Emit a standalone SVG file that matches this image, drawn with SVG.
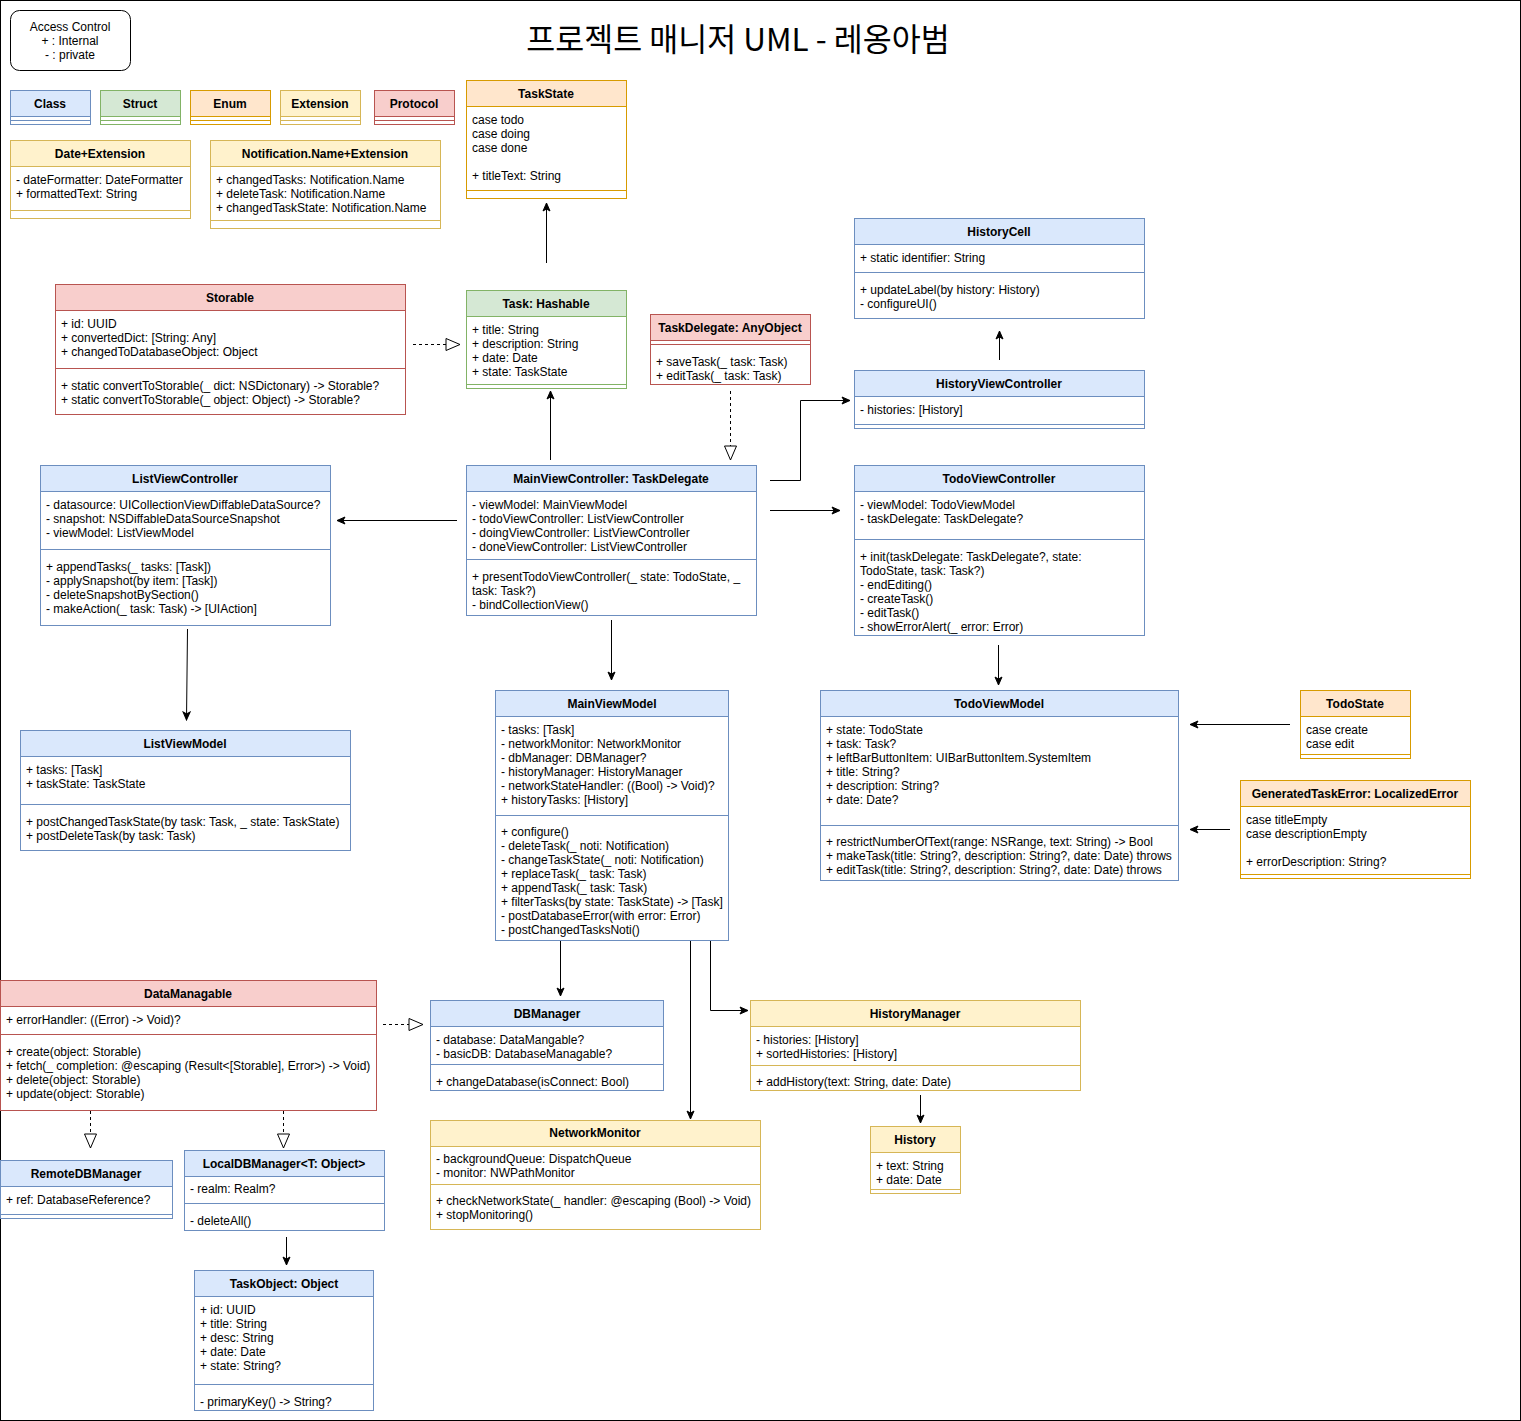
<svg xmlns="http://www.w3.org/2000/svg" width="1521" height="1421" viewBox="0 0 1521 1421">
<defs>
<style>
text{font-family:"Liberation Sans",Arial,sans-serif;font-size:12px;fill:#000}
.h{font-weight:bold;text-anchor:middle}
.c{text-anchor:middle}
rect,line{stroke-width:1}
.node rect{fill:#fff}
.blue rect,.blue line{stroke:#6c8ebf}.blue .hd{fill:#dae8fc}
.green rect,.green line{stroke:#82b366}.green .hd{fill:#d5e8d4}
.orange rect,.orange line{stroke:#d79b00}.orange .hd{fill:#ffe6cc}
.yellow rect,.yellow line{stroke:#d6b656}.yellow .hd{fill:#fff2cc}
.red rect,.red line{stroke:#b85450}.red .hd{fill:#f8cecc}
.edge path{fill:none;stroke:#000;stroke-width:1}
.dash{stroke-dasharray:3 3}
</style>
<marker id="arr" markerUnits="userSpaceOnUse" markerWidth="10" markerHeight="10" viewBox="0 0 10 10" refX="9" refY="5" orient="auto">
<path d="M1,1.5 L9,5 L1,8.5 L3,5 Z" fill="#000" stroke="#000" stroke-width="1"/>
</marker>
<marker id="tri" markerUnits="userSpaceOnUse" markerWidth="16" markerHeight="14" viewBox="0 0 16 14" refX="15" refY="7" orient="auto">
<path d="M1,1 L15,7 L1,13 Z" fill="#fff" stroke="#000" stroke-width="1"/>
</marker>
</defs>
<rect x="0.5" y="0.5" width="1520" height="1420" fill="#fff" stroke="#000"/>
<text x="738" y="51" class="c" style="font-family:'Noto Sans CJK KR','Noto Sans',sans-serif;font-size:31.5px">프로젝트 매니저 UML - 레옹아범</text>

<g id="access-control">
<rect x="10.5" y="10.5" width="120" height="60" rx="9" fill="#fff" stroke="#000"/>
<text x="70" y="31" class="c">Access Control</text>
<text x="70" y="45" class="c">+ : Internal</text>
<text x="70" y="59" class="c">- : private</text>
</g>

<g id="legend-class" class="node blue"><rect x="10.5" y="90.5" width="80" height="34"/><rect class="hd" x="10.5" y="90.5" width="80" height="26"/><line x1="10.5" y1="120.5" x2="90.5" y2="120.5"/><text x="50" y="108" class="h">Class</text></g>
<g id="legend-struct" class="node green"><rect x="100.5" y="90.5" width="80" height="34"/><rect class="hd" x="100.5" y="90.5" width="80" height="26"/><line x1="100.5" y1="120.5" x2="180.5" y2="120.5"/><text x="140" y="108" class="h">Struct</text></g>
<g id="legend-enum" class="node orange"><rect x="190.5" y="90.5" width="80" height="34"/><rect class="hd" x="190.5" y="90.5" width="80" height="26"/><line x1="190.5" y1="120.5" x2="270.5" y2="120.5"/><text x="230" y="108" class="h">Enum</text></g>
<g id="legend-extension" class="node yellow"><rect x="280.5" y="90.5" width="80" height="34"/><rect class="hd" x="280.5" y="90.5" width="80" height="26"/><line x1="280.5" y1="120.5" x2="360.5" y2="120.5"/><text x="320" y="108" class="h">Extension</text></g>
<g id="legend-protocol" class="node red"><rect x="374.5" y="90.5" width="80" height="34"/><rect class="hd" x="374.5" y="90.5" width="80" height="26"/><line x1="374.5" y1="120.5" x2="454.5" y2="120.5"/><text x="414" y="108" class="h">Protocol</text></g>

<g id="date-extension" class="node yellow">
<rect x="10.5" y="140.5" width="180" height="78"/><rect class="hd" x="10.5" y="140.5" width="180" height="26"/>
<text x="100" y="158" class="h">Date+Extension</text>
<text x="16" y="184">- dateFormatter: DateFormatter</text>
<text x="16" y="198">+ formattedText: String</text>
<line x1="10.5" y1="210.5" x2="190.5" y2="210.5"/>
</g>

<g id="notification-extension" class="node yellow">
<rect x="210.5" y="140.5" width="230" height="88"/><rect class="hd" x="210.5" y="140.5" width="230" height="26"/>
<text x="325" y="158" class="h">Notification.Name+Extension</text>
<text x="216" y="184">+ changedTasks: Notification.Name</text>
<text x="216" y="198">+ deleteTask: Notification.Name</text>
<text x="216" y="212">+ changedTaskState: Notification.Name</text>
<line x1="210.5" y1="220.5" x2="440.5" y2="220.5"/>
</g>

<g id="taskstate" class="node orange">
<rect x="466.5" y="80.5" width="160" height="118"/><rect class="hd" x="466.5" y="80.5" width="160" height="26"/>
<text x="546" y="98" class="h">TaskState</text>
<text x="472" y="124">case todo</text>
<text x="472" y="138">case doing</text>
<text x="472" y="152">case done</text>
<text x="472" y="180">+ titleText: String</text>
<line x1="466.5" y1="190.5" x2="626.5" y2="190.5"/>
</g>

<g id="historycell" class="node blue">
<rect x="854.5" y="218.5" width="290" height="100"/><rect class="hd" x="854.5" y="218.5" width="290" height="26"/>
<text x="999" y="236" class="h">HistoryCell</text>
<text x="860" y="262">+ static identifier: String</text>
<line x1="854.5" y1="272.5" x2="1144.5" y2="272.5"/>
<text x="860" y="294">+ updateLabel(by history: History)</text>
<text x="860" y="308">- configureUI()</text>
</g>

<g id="historyviewcontroller" class="node blue">
<rect x="854.5" y="370.5" width="290" height="58"/><rect class="hd" x="854.5" y="370.5" width="290" height="26"/>
<text x="999" y="388" class="h">HistoryViewController</text>
<text x="860" y="414">- histories: [History]</text>
<line x1="854.5" y1="424.5" x2="1144.5" y2="424.5"/>
</g>

<g id="storable" class="node red">
<rect x="55.5" y="284.5" width="350" height="130"/><rect class="hd" x="55.5" y="284.5" width="350" height="26"/>
<text x="230" y="302" class="h">Storable</text>
<text x="61" y="328">+ id: UUID</text>
<text x="61" y="342">+ convertedDict: [String: Any]</text>
<text x="61" y="356">+ changedToDatabaseObject: Object</text>
<line x1="55.5" y1="368.5" x2="405.5" y2="368.5"/>
<text x="61" y="390">+ static convertToStorable(_ dict: NSDictonary) -&gt; Storable?</text>
<text x="61" y="404">+ static convertToStorable(_ object: Object) -&gt; Storable?</text>
</g>

<g id="task" class="node green">
<rect x="466.5" y="290.5" width="160" height="98"/><rect class="hd" x="466.5" y="290.5" width="160" height="26"/>
<text x="546" y="308" class="h">Task: Hashable</text>
<text x="472" y="334">+ title: String</text>
<text x="472" y="348">+ description: String</text>
<text x="472" y="362">+ date: Date</text>
<text x="472" y="376">+ state: TaskState</text>
<line x1="466.5" y1="384.5" x2="626.5" y2="384.5"/>
</g>

<g id="taskdelegate" class="node red">
<rect x="650.5" y="314.5" width="160" height="70"/><rect class="hd" x="650.5" y="314.5" width="160" height="26"/>
<text x="730" y="332" class="h">TaskDelegate: AnyObject</text>
<line x1="650.5" y1="344.5" x2="810.5" y2="344.5"/>
<text x="656" y="366">+ saveTask(_ task: Task)</text>
<text x="656" y="380">+ editTask(_ task: Task)</text>
</g>

<g id="listviewcontroller" class="node blue">
<rect x="40.5" y="465.5" width="290" height="160"/><rect class="hd" x="40.5" y="465.5" width="290" height="26"/>
<text x="185" y="483" class="h">ListViewController</text>
<text x="46" y="509">- datasource: UICollectionViewDiffableDataSource?</text>
<text x="46" y="523">- snapshot: NSDiffableDataSourceSnapshot</text>
<text x="46" y="537">- viewModel: ListViewModel</text>
<line x1="40.5" y1="549.5" x2="330.5" y2="549.5"/>
<text x="46" y="571">+ appendTasks(_ tasks: [Task])</text>
<text x="46" y="585">- applySnapshot(by item: [Task])</text>
<text x="46" y="599">- deleteSnapshotBySection()</text>
<text x="46" y="613">- makeAction(_ task: Task) -&gt; [UIAction]</text>
</g>

<g id="listviewmodel" class="node blue">
<rect x="20.5" y="730.5" width="330" height="120"/><rect class="hd" x="20.5" y="730.5" width="330" height="26"/>
<text x="185" y="748" class="h">ListViewModel</text>
<text x="26" y="774">+ tasks: [Task]</text>
<text x="26" y="788">+ taskState: TaskState</text>
<line x1="20.5" y1="804.5" x2="350.5" y2="804.5"/>
<text x="26" y="826">+ postChangedTaskState(by task: Task, _ state: TaskState)</text>
<text x="26" y="840">+ postDeleteTask(by task: Task)</text>
</g>

<g id="mainviewcontroller" class="node blue">
<rect x="466.5" y="465.5" width="290" height="150"/><rect class="hd" x="466.5" y="465.5" width="290" height="26"/>
<text x="611" y="483" class="h">MainViewController: TaskDelegate</text>
<text x="472" y="509">- viewModel: MainViewModel</text>
<text x="472" y="523">- todoViewController: ListViewController</text>
<text x="472" y="537">- doingViewController: ListViewController</text>
<text x="472" y="551">- doneViewController: ListViewController</text>
<line x1="466.5" y1="559.5" x2="756.5" y2="559.5"/>
<text x="472" y="581">+ presentTodoViewController(_ state: TodoState, _</text>
<text x="472" y="595">task: Task?)</text>
<text x="472" y="609">- bindCollectionView()</text>
</g>

<g id="todoviewcontroller" class="node blue">
<rect x="854.5" y="465.5" width="290" height="170"/><rect class="hd" x="854.5" y="465.5" width="290" height="26"/>
<text x="999" y="483" class="h">TodoViewController</text>
<text x="860" y="509">- viewModel: TodoViewModel</text>
<text x="860" y="523">- taskDelegate: TaskDelegate?</text>
<line x1="854.5" y1="539.5" x2="1144.5" y2="539.5"/>
<text x="860" y="561">+ init(taskDelegate: TaskDelegate?, state:</text>
<text x="860" y="575">TodoState, task: Task?)</text>
<text x="860" y="589">- endEditing()</text>
<text x="860" y="603">- createTask()</text>
<text x="860" y="617">- editTask()</text>
<text x="860" y="631">- showErrorAlert(_ error: Error)</text>
</g>

<g id="mainviewmodel" class="node blue">
<rect x="495.5" y="690.5" width="233" height="250"/><rect class="hd" x="495.5" y="690.5" width="233" height="26"/>
<text x="612" y="708" class="h">MainViewModel</text>
<text x="501" y="734">- tasks: [Task]</text>
<text x="501" y="748">- networkMonitor: NetworkMonitor</text>
<text x="501" y="762">- dbManager: DBManager?</text>
<text x="501" y="776">- historyManager: HistoryManager</text>
<text x="501" y="790">- networkStateHandler: ((Bool) -&gt; Void)?</text>
<text x="501" y="804">+ historyTasks: [History]</text>
<line x1="495.5" y1="815.5" x2="728.5" y2="815.5"/>
<text x="501" y="836">+ configure()</text>
<text x="501" y="850">- deleteTask(_ noti: Notification)</text>
<text x="501" y="864">- changeTaskState(_ noti: Notification)</text>
<text x="501" y="878">+ replaceTask(_ task: Task)</text>
<text x="501" y="892">+ appendTask(_ task: Task)</text>
<text x="501" y="906">+ filterTasks(by state: TaskState) -&gt; [Task]</text>
<text x="501" y="920">- postDatabaseError(with error: Error)</text>
<text x="501" y="934">- postChangedTasksNoti()</text>
</g>

<g id="todoviewmodel" class="node blue">
<rect x="820.5" y="690.5" width="358" height="190"/><rect class="hd" x="820.5" y="690.5" width="358" height="26"/>
<text x="999" y="708" class="h">TodoViewModel</text>
<text x="826" y="734">+ state: TodoState</text>
<text x="826" y="748">+ task: Task?</text>
<text x="826" y="762">+ leftBarButtonItem: UIBarButtonItem.SystemItem</text>
<text x="826" y="776">+ title: String?</text>
<text x="826" y="790">+ description: String?</text>
<text x="826" y="804">+ date: Date?</text>
<line x1="820.5" y1="825.5" x2="1178.5" y2="825.5"/>
<text x="826" y="846">+ restrictNumberOfText(range: NSRange, text: String) -&gt; Bool</text>
<text x="826" y="860">+ makeTask(title: String?, description: String?, date: Date) throws</text>
<text x="826" y="874">+ editTask(title: String?, description: String?, date: Date) throws</text>
</g>

<g id="todostate" class="node orange">
<rect x="1300.5" y="690.5" width="110" height="68"/><rect class="hd" x="1300.5" y="690.5" width="110" height="26"/>
<text x="1355" y="708" class="h">TodoState</text>
<text x="1306" y="734">case create</text>
<text x="1306" y="748">case edit</text>
<line x1="1300.5" y1="754.5" x2="1410.5" y2="754.5"/>
</g>

<g id="generatedtaskerror" class="node orange">
<rect x="1240.5" y="780.5" width="230" height="98"/><rect class="hd" x="1240.5" y="780.5" width="230" height="26"/>
<text x="1355" y="798" class="h">GeneratedTaskError: LocalizedError</text>
<text x="1246" y="824">case titleEmpty</text>
<text x="1246" y="838">case descriptionEmpty</text>
<text x="1246" y="866">+ errorDescription: String?</text>
<line x1="1240.5" y1="874.5" x2="1470.5" y2="874.5"/>
</g>

<g id="datamanagable" class="node red">
<rect x="0.5" y="980.5" width="376" height="130"/><rect class="hd" x="0.5" y="980.5" width="376" height="26"/>
<text x="188" y="998" class="h">DataManagable</text>
<text x="6" y="1024">+ errorHandler: ((Error) -&gt; Void)?</text>
<line x1="0.5" y1="1034.5" x2="376.5" y2="1034.5"/>
<text x="6" y="1056">+ create(object: Storable)</text>
<text x="6" y="1070">+ fetch(_ completion: @escaping (Result&lt;[Storable], Error&gt;) -&gt; Void)</text>
<text x="6" y="1084">+ delete(object: Storable)</text>
<text x="6" y="1098">+ update(object: Storable)</text>
</g>

<g id="remotedbmanager" class="node blue">
<rect x="0.5" y="1160.5" width="172" height="58"/><rect class="hd" x="0.5" y="1160.5" width="172" height="26"/>
<text x="86" y="1178" class="h">RemoteDBManager</text>
<text x="6" y="1204">+ ref: DatabaseReference?</text>
<line x1="0.5" y1="1214.5" x2="172.5" y2="1214.5"/>
</g>

<g id="localdbmanager" class="node blue">
<rect x="184.5" y="1150.5" width="200" height="80"/><rect class="hd" x="184.5" y="1150.5" width="200" height="26"/>
<text x="284" y="1168" class="h">LocalDBManager&lt;T: Object&gt;</text>
<text x="190" y="1193">- realm: Realm?</text>
<line x1="184.5" y1="1203.5" x2="384.5" y2="1203.5"/>
<text x="190" y="1225">- deleteAll()</text>
</g>

<g id="taskobject" class="node blue">
<rect x="194.5" y="1270.5" width="179" height="140"/><rect class="hd" x="194.5" y="1270.5" width="179" height="26"/>
<text x="284" y="1288" class="h">TaskObject: Object</text>
<text x="200" y="1314">+ id: UUID</text>
<text x="200" y="1328">+ title: String</text>
<text x="200" y="1342">+ desc: String</text>
<text x="200" y="1356">+ date: Date</text>
<text x="200" y="1370">+ state: String?</text>
<line x1="194.5" y1="1384.5" x2="373.5" y2="1384.5"/>
<text x="200" y="1406">- primaryKey() -&gt; String?</text>
</g>

<g id="dbmanager" class="node blue">
<rect x="430.5" y="1000.5" width="233" height="90"/><rect class="hd" x="430.5" y="1000.5" width="233" height="26"/>
<text x="547" y="1018" class="h">DBManager</text>
<text x="436" y="1044">- database: DataMangable?</text>
<text x="436" y="1058">- basicDB: DatabaseManagable?</text>
<line x1="430.5" y1="1064.5" x2="663.5" y2="1064.5"/>
<text x="436" y="1086">+ changeDatabase(isConnect: Bool)</text>
</g>

<g id="networkmonitor" class="node yellow">
<rect x="430.5" y="1120.5" width="330" height="109"/><rect class="hd" x="430.5" y="1120.5" width="330" height="26"/>
<text x="595" y="1137" class="h">NetworkMonitor</text>
<text x="436" y="1163">- backgroundQueue: DispatchQueue</text>
<text x="436" y="1177">- monitor: NWPathMonitor</text>
<line x1="430.5" y1="1184.5" x2="760.5" y2="1184.5"/>
<text x="436" y="1205">+ checkNetworkState(_ handler: @escaping (Bool) -&gt; Void)</text>
<text x="436" y="1219">+ stopMonitoring()</text>
</g>

<g id="historymanager" class="node yellow">
<rect x="750.5" y="1000.5" width="330" height="90"/><rect class="hd" x="750.5" y="1000.5" width="330" height="26"/>
<text x="915" y="1018" class="h">HistoryManager</text>
<text x="756" y="1044">- histories: [History]</text>
<text x="756" y="1058">+ sortedHistories: [History]</text>
<line x1="750.5" y1="1065.5" x2="1080.5" y2="1065.5"/>
<text x="756" y="1086">+ addHistory(text: String, date: Date)</text>
</g>

<g id="history" class="node yellow">
<rect x="870.5" y="1126.5" width="90" height="67"/><rect class="hd" x="870.5" y="1126.5" width="90" height="26"/>
<text x="915" y="1144" class="h">History</text>
<text x="876" y="1170">+ text: String</text>
<text x="876" y="1184">+ date: Date</text>
<line x1="870.5" y1="1189.5" x2="960.5" y2="1189.5"/>
</g>

<g id="connectors" class="edge">
<path d="M546.5,263 L546.5,203" marker-end="url(#arr)"/>
<path d="M999.5,360 L999.5,331" marker-end="url(#arr)"/>
<path d="M413,344.5 L460,344.5" class="dash" marker-end="url(#tri)"/>
<path d="M730.5,391 L730.5,460" class="dash" marker-end="url(#tri)"/>
<path d="M550.5,460 L550.5,391" marker-end="url(#arr)"/>
<path d="M457,520.5 L337,520.5" marker-end="url(#arr)"/>
<path d="M770,480.5 L800.5,480.5 L800.5,400.5 L850,400.5" marker-end="url(#arr)"/>
<path d="M770,510.5 L840,510.5" marker-end="url(#arr)"/>
<path d="M611.5,620 L611.5,680" marker-end="url(#arr)"/>
<path d="M187.5,629 L186.5,720" marker-end="url(#arr)"/>
<path d="M998.5,645 L998.5,685" marker-end="url(#arr)"/>
<path d="M1290,724.5 L1190,724.5" marker-end="url(#arr)"/>
<path d="M1230,829.5 L1190,829.5" marker-end="url(#arr)"/>
<path d="M560.5,941 L560.5,996" marker-end="url(#arr)"/>
<path d="M690.5,941 L690.5,1119" marker-end="url(#arr)"/>
<path d="M710.5,941 L710.5,1010.5 L748,1010.5" marker-end="url(#arr)"/>
<path d="M383,1024.5 L423,1024.5" class="dash" marker-end="url(#tri)"/>
<path d="M90.5,1111 L90.5,1148" class="dash" marker-end="url(#tri)"/>
<path d="M283.5,1111 L283.5,1148" class="dash" marker-end="url(#tri)"/>
<path d="M286.5,1237 L286.5,1265" marker-end="url(#arr)"/>
<path d="M920.5,1095 L920.5,1123" marker-end="url(#arr)"/>
</g>
</svg>
